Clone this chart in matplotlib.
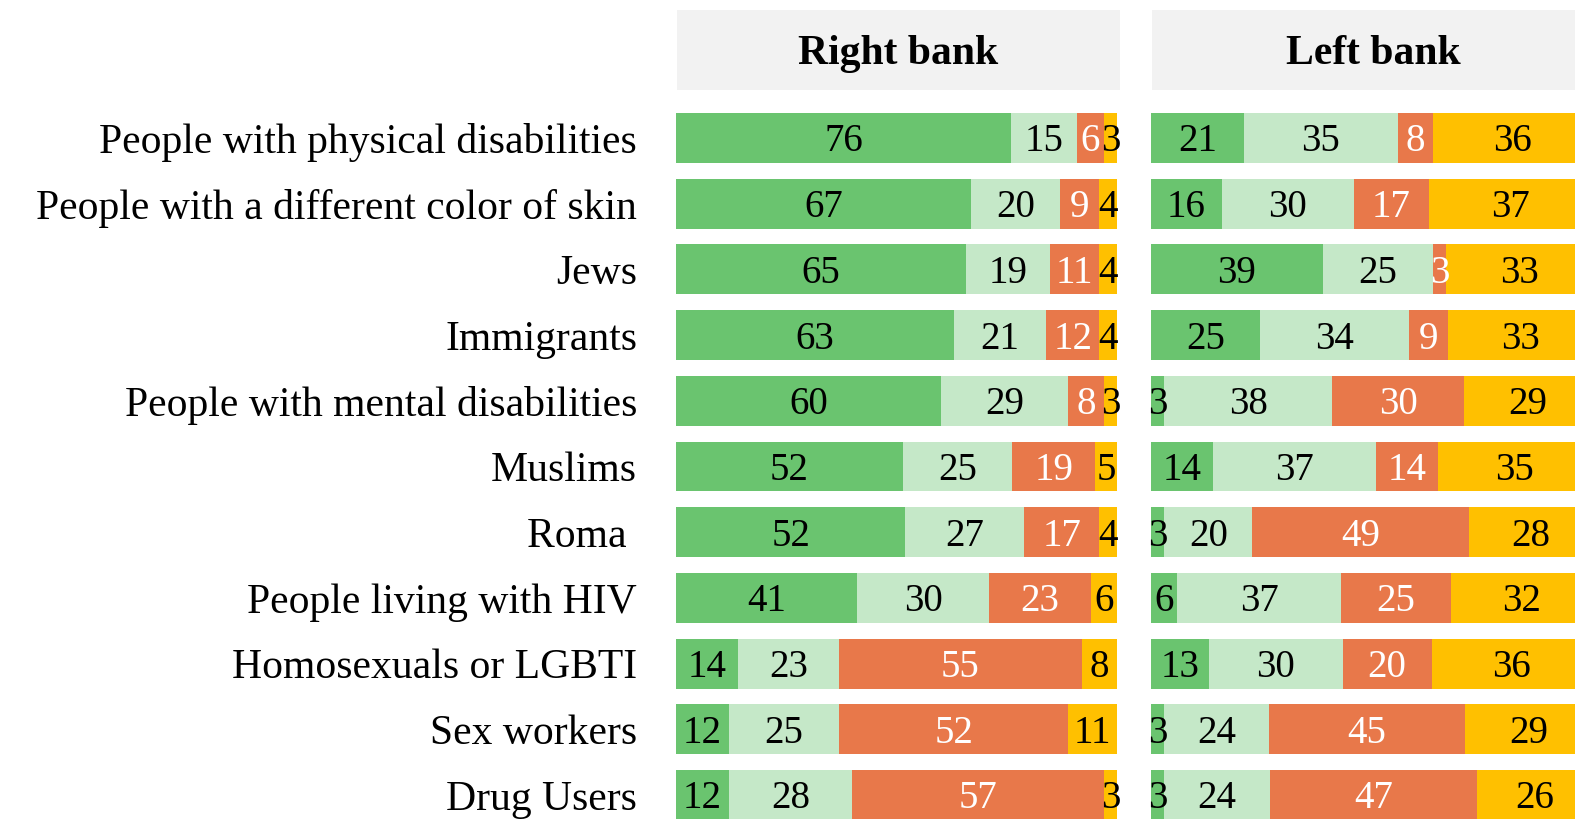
import matplotlib
matplotlib.use("Agg")
import matplotlib.pyplot as plt
import numpy as np

plt.rcParams['font.family'] = ['Liberation Serif', 'DejaVu Serif']

groups = [
    "People with physical disabilities",
    "People with a different color of skin",
    "Jews",
    "Immigrants",
    "People with mental disabilities",
    "Muslims",
    "Roma ",
    "People living with HIV",
    "Homosexuals or LGBTI",
    "Sex workers",
    "Drug Users",
]

panels = ["Right bank", "Left bank"]

right_bank = [
    [76, 15, 6, 3],
    [67, 20, 9, 4],
    [65, 19, 11, 4],
    [63, 21, 12, 4],
    [60, 29, 8, 3],
    [52, 25, 19, 5],
    [52, 27, 17, 4],
    [41, 30, 23, 6],
    [14, 23, 55, 8],
    [12, 25, 52, 11],
    [12, 28, 57, 3],
]

left_bank = [
    [21, 35, 8, 36],
    [16, 30, 17, 37],
    [39, 25, 3, 33],
    [25, 34, 9, 33],
    [3, 38, 30, 29],
    [14, 37, 14, 35],
    [3, 20, 49, 28],
    [6, 37, 25, 32],
    [13, 30, 20, 36],
    [3, 24, 45, 29],
    [3, 24, 47, 26],
]

colors = ["#6AC46F", "#C5E8C8", "#E8784A", "#FFC000"]
text_colors = ["black", "black", "white", "black"]

W, H = 1575, 819
fig = plt.figure(figsize=(W / 100, H / 100), dpi=100)

row_px = 65.7
top_px = 138 - row_px / 2
bot_px = 795 + row_px / 2
ax_bottom = 1 - bot_px / H
ax_height = (bot_px - top_px) / H

panel_lefts = [676, 1151]
panel_width = 441

for p, (name, data) in enumerate(zip(panels, [right_bank, left_bank])):
    ax = fig.add_axes([panel_lefts[p] / W, ax_bottom, panel_width / W, ax_height])
    vals = np.array(data, dtype=float)
    shares = vals / vals.sum(axis=1, keepdims=True) * 100
    y = np.arange(len(groups))
    left = np.zeros(len(groups))
    for k in range(4):
        ax.barh(y, shares[:, k], left=left, height=0.76, color=colors[k],
                linewidth=0)
        for i in range(len(groups)):
            ax.text(left[i] + shares[i, k] / 2, y[i] + 0.06, str(int(vals[i, k])),
                    ha="center", va="center", fontsize=28, color=text_colors[k])
        left += shares[:, k]
    ax.set_xlim(0, 100)
    ax.set_ylim(len(groups) - 0.5, -0.5)
    ax.set_xticks([])
    for s in ax.spines.values():
        s.set_visible(False)
    if p == 0:
        ax.set_yticks(y)
        ax.set_yticklabels(groups, fontsize=30)
        ax.tick_params(axis="y", length=0, pad=28)
        for lbl in ax.get_yticklabels():
            lbl.set_y(lbl.get_position()[1])
    else:
        ax.set_yticks([])

    strip = fig.add_axes([(panel_lefts[p] + 1) / W, 1 - 90 / H, 443 / W, 80 / H])
    strip.set_facecolor("#F2F2F2")
    strip.set_xticks([])
    strip.set_yticks([])
    for s in strip.spines.values():
        s.set_visible(False)
    strip.text(0.5, 0.45, name, ha="center", va="center", fontsize=30,
               fontweight="bold", transform=strip.transAxes)

fig.savefig("out.png", dpi=100)
